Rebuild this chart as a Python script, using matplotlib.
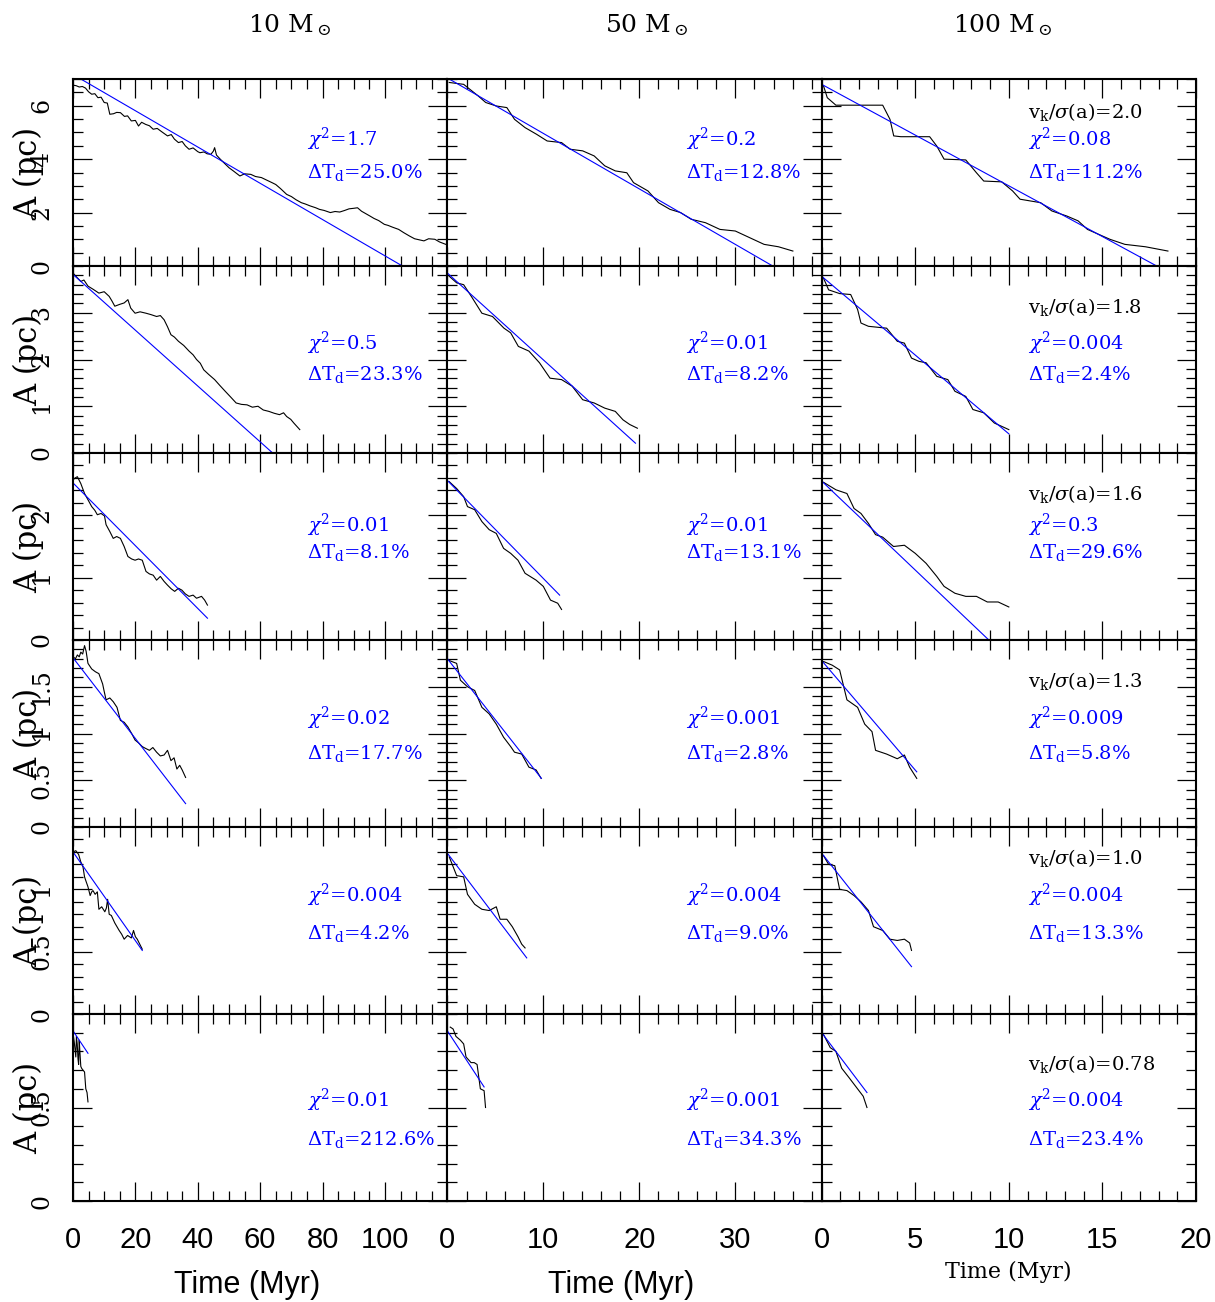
import matplotlib.pyplot as plt
from matplotlib.ticker import MultipleLocator

plt.rcParams['mathtext.fontset'] = 'dejavuserif'

# ---- data -------------------------------------------------------------
masses = ["10", "50", "100"]
vk_sigma = ["2.0", "1.8", "1.6", "1.3", "1.0", "0.78"]

chi2 = [["1.7", "0.2", "0.08"],
        ["0.5", "0.01", "0.004"],
        ["0.01", "0.01", "0.3"],
        ["0.02", "0.001", "0.009"],
        ["0.004", "0.004", "0.004"],
        ["0.01", "0.001", "0.004"]]

delta_td = [["25.0", "12.8", "11.2"],
            ["23.3", "8.2", "2.4"],
            ["8.1", "13.1", "29.6"],
            ["17.7", "2.8", "5.8"],
            ["4.2", "9.0", "13.3"],
            ["212.6", "34.3", "23.4"]]

# linear fits, one per row: (t_start, A_start, t_end, A_end)
fit_10 = [(0, 7.17, 105.6, 0.0), (0, 3.82, 64.0, 0.0), (0, 2.52, 43.1, 0.35),
          (0, 1.81, 36.1, 0.25), (0, 1.30, 22.2, 0.51), (0, 0.91, 4.8, 0.79)]
fit_50 = [(0, 7.04, 33.9, 0.0), (0, 3.85, 19.6, 0.21), (0, 2.56, 11.7, 0.72),
          (0, 1.80, 9.8, 0.52), (0, 1.29, 8.27, 0.45), (0, 0.91, 3.83, 0.61)]
fit_100 = [(0, 6.80, 17.9, 0.0), (0, 3.78, 10.0, 0.41), (0, 2.55, 8.93, 0.0),
           (0, 1.78, 5.08, 0.59), (0, 1.29, 4.8, 0.38), (0, 0.90, 2.42, 0.58)]

# simulated semi-major axis vs time (Myr, pc)
t_10 = [
    [0, 1, 2, 3, 4, 5, 6, 7, 8, 9, 10, 11, 11.8, 13, 14, 15.2, 16.5, 17.5, 18.7, 20,
     21, 22, 23.3, 24.5, 25.7, 27, 28.5, 30.3, 31.5, 32.5, 33.8, 35, 36, 37.2, 38.5, 40,
     40.7, 42, 43, 44.2, 45, 45.4, 46, 47.2, 48.5, 50, 51.5, 53.5, 55, 57, 58.5, 60.4,
     62, 63.8, 65, 66.5, 68.5, 70, 71.5, 73.2, 74.5, 76, 77.8, 79, 80.5, 82.5, 84, 85.5,
     87.1, 88.5, 90, 91.2, 92.5, 94, 95.2, 96.5, 98, 99.8, 101, 102.5, 104.4, 106, 107.9,
     109.5, 111, 112.5, 114, 116, 117.5, 119.5],
    [0, 1.2, 2.5, 3.5, 4.8, 6.5, 8.3, 10, 11.6, 12.5, 13.4, 15, 16.4, 17.6, 18.5, 19.9,
     21.5, 23.4, 25, 26.8, 28, 29.2, 30.3, 31.4, 32.5, 33.8, 35.5, 37.2, 38.5, 39.6, 40.8,
     41.9, 43.5, 45.4, 47, 48.8, 50.5, 52.3, 54, 55.8, 57.5, 59.3, 61, 62.8, 64.5, 66.2,
     67.5, 68.5, 69.8, 70.8, 72.7],
    [0, 0.7, 1.4, 2.5, 3.7, 4.8, 6.0, 7.0, 7.8, 9, 10.1, 10.6, 11.8, 12.9, 14, 15.2, 16.4,
     17.6, 18.8, 19.9, 21, 22.2, 23.4, 24.5, 25.7, 26.8, 28, 29.2, 30.3, 31.5, 32.6, 33.8,
     34.9, 36, 37.2, 38.5, 39.6, 41.2, 42.2, 43.1],
    [0, 0.8, 1.4, 2.0, 2.5, 3.1, 3.7, 4.2, 4.8, 5.4, 6.0, 7.2, 8.3, 9.5, 10.0, 10.6, 11.8,
     12.9, 14.1, 15.2, 16.4, 17.6, 18.8, 19.9, 21, 22.2, 23.3, 24.5, 25.6, 26.8, 28, 29.2,
     30.3, 31.4, 32.4, 33.3, 34.2, 35, 36.1],
    [0, 0.9, 1.8, 2.5, 3.2, 3.7, 4.1, 4.8, 5.5, 6.0, 6.4, 7.1, 7.8, 8.3, 9.2, 10.2, 10.7,
     11.1, 11.6, 12.3, 13.4, 14.1, 14.8, 15.6, 16.4, 17.5, 18.7, 19.4, 20.0, 20.6, 21.4, 22.2],
    [0, 0.4, 0.9, 1.1, 1.35, 1.6, 1.8, 2.0, 2.2, 2.5, 2.75, 3.2, 3.7, 4.1, 4.5, 4.8],
]
a_10 = [
    [6.77, 6.75, 6.70, 6.72, 6.66, 6.52, 6.43, 6.45, 6.30, 6.32, 6.12, 6.10, 5.68, 5.70,
     5.75, 5.74, 5.60, 5.62, 5.43, 5.45, 5.24, 5.38, 5.30, 5.25, 5.12, 5.15, 5.02, 4.87,
     4.92, 4.75, 4.62, 4.66, 4.50, 4.37, 4.42, 4.28, 4.24, 4.27, 4.20, 4.18, 4.30, 4.43,
     4.15, 4.00, 3.85, 3.68, 3.55, 3.37, 3.45, 3.43, 3.35, 3.31, 3.22, 3.12, 3.05, 2.90,
     2.68, 2.60, 2.48, 2.37, 2.32, 2.25, 2.18, 2.12, 2.08, 2.00, 2.04, 2.02, 2.08, 2.14,
     2.16, 2.18, 2.05, 1.95, 1.87, 1.78, 1.70, 1.56, 1.52, 1.45, 1.37, 1.25, 1.12, 1.02,
     0.98, 0.94, 1.02, 1.00, 0.90, 0.81],
    [3.85, 3.76, 3.67, 3.70, 3.57, 3.50, 3.42, 3.45, 3.35, 3.25, 3.14, 3.18, 3.21, 3.28,
     3.10, 2.99, 3.02, 2.99, 2.96, 2.92, 2.94, 2.85, 2.70, 2.53, 2.48, 2.39, 2.30, 2.18,
     2.10, 2.00, 1.92, 1.78, 1.68, 1.57, 1.45, 1.32, 1.20, 1.07, 1.04, 1.03, 0.98, 1.00,
     0.92, 0.89, 0.85, 0.82, 0.86, 0.78, 0.72, 0.64, 0.50],
    [2.57, 2.60, 2.62, 2.51, 2.35, 2.25, 2.14, 2.08, 2.01, 2.03, 1.99, 1.85, 1.74, 1.63,
     1.66, 1.63, 1.50, 1.34, 1.30, 1.28, 1.30, 1.28, 1.10, 1.06, 1.04, 0.96, 1.02, 0.94,
     0.88, 0.82, 0.78, 0.83, 0.80, 0.74, 0.70, 0.72, 0.67, 0.70, 0.64, 0.56],
    [1.82, 1.80, 1.84, 1.82, 1.87, 1.85, 1.94, 1.88, 1.75, 1.72, 1.69, 1.66, 1.64, 1.53,
     1.45, 1.36, 1.38, 1.34, 1.28, 1.14, 1.12, 1.07, 1.00, 0.93, 0.90, 0.86, 0.84, 0.82,
     0.85, 0.80, 0.76, 0.77, 0.82, 0.71, 0.74, 0.62, 0.66, 0.61, 0.53],
    [1.30, 1.31, 1.28, 1.22, 1.18, 1.10, 1.07, 1.02, 0.95, 0.98, 0.99, 0.96, 0.98, 0.84,
     0.86, 0.82, 0.85, 0.92, 0.80, 0.79, 0.73, 0.70, 0.67, 0.64, 0.60, 0.63, 0.61, 0.67,
     0.62, 0.60, 0.56, 0.52],
    [0.90, 0.85, 0.77, 0.88, 0.84, 0.76, 0.73, 0.86, 0.80, 0.72, 0.71, 0.70, 0.69, 0.60,
     0.58, 0.53],
]

t_50 = [
    [0.2, 1.7, 3.2, 4.0, 5.1, 6.2, 7.0, 8.1, 9.3, 10.4, 11.9, 12.8, 14.1, 15.3, 16.4, 17.5,
     18.7, 19.4, 20.9, 22.0, 23.2, 24.3, 25.4, 26.9, 28.4, 30.0, 31.5, 33.0, 34.5, 36.0],
    [0.2, 0.97, 1.7, 2.5, 3.6, 4.7, 5.9, 6.6, 7.4, 8.5, 9.6, 10.7, 11.9, 13.0, 14.1, 15.3,
     16.4, 17.5, 18.3, 19.0, 19.8],
    [0.2, 0.97, 1.7, 2.1, 2.85, 3.6, 4.36, 5.1, 5.86, 6.6, 7.36, 8.1, 9.25, 10.0, 10.75,
     11.5, 11.9],
    [0.2, 0.97, 1.36, 2.1, 2.85, 3.6, 4.36, 5.1, 5.86, 6.6, 7.0, 7.75, 8.5, 9.25, 9.77],
    [0.2, 0.97, 1.7, 2.1, 2.85, 3.6, 4.36, 5.1, 5.5, 6.2, 6.77, 7.36, 7.75, 8.1],
    [0.3, 0.6, 0.9, 1.36, 1.7, 1.95, 2.47, 2.8, 3.1, 3.44, 3.83, 3.98],
]
a_50 = [
    [6.87, 6.80, 6.37, 6.12, 5.99, 5.93, 5.49, 5.18, 4.93, 4.68, 4.62, 4.37, 4.31, 4.12,
     3.75, 3.56, 3.49, 3.12, 2.81, 2.37, 2.12, 2.00, 1.75, 1.62, 1.37, 1.31, 1.06, 0.81,
     0.72, 0.56],
    [3.78, 3.64, 3.60, 3.35, 2.99, 2.92, 2.67, 2.57, 2.28, 2.18, 1.93, 1.60, 1.57, 1.43,
     1.14, 1.07, 0.96, 0.89, 0.71, 0.61, 0.53],
    [2.54, 2.43, 2.30, 2.14, 2.09, 1.90, 1.77, 1.71, 1.47, 1.39, 1.28, 1.07, 0.96, 0.86,
     0.64, 0.59, 0.49],
    [1.78, 1.75, 1.57, 1.50, 1.46, 1.28, 1.21, 1.10, 0.96, 0.86, 0.80, 0.78, 0.64, 0.61, 0.52],
    [1.26, 1.11, 1.10, 0.96, 0.88, 0.84, 0.83, 0.86, 0.76, 0.76, 0.70, 0.62, 0.56, 0.53],
    [0.93, 0.92, 0.88, 0.86, 0.84, 0.77, 0.74, 0.74, 0.73, 0.60, 0.59, 0.50],
]

t_100 = [
    [0.1, 0.3, 0.76, 3.26, 3.65, 3.85, 4.23, 5.77, 6.15, 6.54, 7.7, 8.27, 8.66, 9.62, 10.2,
     10.6, 11.7, 12.3, 13.1, 13.7, 14.2, 15.4, 16.2, 17.3, 18.5],
    [0.1, 0.37, 0.96, 1.55, 1.92, 2.1, 2.5, 3.47, 4.04, 4.42, 4.8, 5.2, 5.58, 6.15, 6.74,
     7.12, 7.7, 8.08, 8.66, 9.23, 9.62, 10.0],
    [0.1, 0.76, 1.35, 1.73, 2.1, 2.5, 2.88, 3.26, 3.84, 4.42, 5.0, 5.58, 6.15, 6.54, 7.12,
     7.7, 8.27, 8.85, 9.43, 10.0],
    [0.1, 0.57, 0.96, 1.35, 1.92, 2.3, 2.69, 2.88, 3.47, 4.04, 4.42, 4.7, 5.08],
    [0.1, 0.37, 0.7, 0.96, 1.35, 1.73, 2.1, 2.5, 2.77, 3.26, 3.65, 4.04, 4.42, 4.7, 4.8],
    [0.1, 0.46, 0.76, 1.07, 1.46, 1.84, 2.22, 2.42],
]
a_100 = [
    [6.74, 6.30, 6.02, 6.02, 5.49, 4.87, 4.84, 4.84, 4.49, 4.00, 3.97, 3.49, 3.18, 3.15,
     2.81, 2.50, 2.37, 2.06, 1.87, 1.69, 1.37, 1.00, 0.81, 0.72, 0.56],
    [3.74, 3.49, 3.41, 3.39, 3.07, 2.78, 2.71, 2.67, 2.39, 2.35, 2.03, 1.96, 1.93, 1.64,
     1.57, 1.32, 1.21, 0.93, 0.86, 0.64, 0.57, 0.50],
    [2.53, 2.41, 2.35, 2.11, 2.03, 1.87, 1.69, 1.65, 1.50, 1.52, 1.39, 1.23, 1.02, 0.86,
     0.75, 0.70, 0.70, 0.61, 0.61, 0.53],
    [1.77, 1.73, 1.68, 1.36, 1.28, 1.10, 1.02, 0.82, 0.78, 0.73, 0.77, 0.64, 0.52],
    [1.27, 1.20, 1.19, 1.00, 0.99, 0.95, 0.90, 0.83, 0.70, 0.67, 0.60, 0.59, 0.60, 0.57, 0.51],
    [0.89, 0.82, 0.80, 0.71, 0.66, 0.61, 0.56, 0.50],
]

# axis ranges and ticks
x_max = [120, 39, 20]
x_major = [[0, 20, 40, 60, 80, 100], [0, 10, 20, 30], [0, 5, 10, 15, 20]]
x_minor = [5, 2, 1]
y_max = [7, 4, 3, 2, 1.5, 1]
y_major = [[0, 2, 4, 6], [0, 1, 2, 3], [0, 1, 2], [0, 0.5, 1, 1.5], [0, 0.5, 1], [0, 0.5]]
y_minor = [0.5, 0.2, 0.2, 0.1, 0.1, 0.1]

# ---- layout -----------------------------------------------------------
W, H = 1215, 1302
text_x = [0.624, 0.638, 0.552]
vk_y = [0.791, 0.749, 0.749, 0.749, 0.802, 0.700]
chi_y = [0.642, 0.553, 0.579, 0.545, 0.599, 0.503]
dt_y = [0.471, 0.390, 0.439, 0.363, 0.401, 0.299]

fig, axes = plt.subplots(
    6, 3, figsize=(W / 100, H / 100), dpi=100,
    gridspec_kw=dict(hspace=0, wspace=0, left=73 / W, right=1196 / W,
                     top=1 - 79 / H, bottom=1 - 1201 / H))

columns = [(t_10, a_10, fit_10), (t_50, a_50, fit_50), (t_100, a_100, fit_100)]
serif = 'DejaVu Serif'

for c, (times, amps, fits) in enumerate(columns):
    for r in range(6):
        ax = axes[r, c]
        ax.plot(times[r], amps[r], color='black', lw=0.8)
        t0, a0, t1, a1 = fits[r]
        ax.plot([t0, t1], [a0, a1], color='blue', lw=0.8)

        ax.set_xlim(0, x_max[c])
        ax.set_ylim(0, y_max[r])
        ax.set_xticks(x_major[c], [f"{v:g}" for v in x_major[c]])
        ax.xaxis.set_minor_locator(MultipleLocator(x_minor[c]))
        ax.set_yticks(y_major[r], [f"{v:g}" for v in y_major[r]])
        ax.yaxis.set_minor_locator(MultipleLocator(y_minor[r]))

        for s in ax.spines.values():
            s.set_linewidth(1.5)
        ax.tick_params(which='both', direction='in', top=True, right=True, width=0.9)
        ax.tick_params(which='major', length=14)
        ax.tick_params(which='minor', length=7)
        ax.tick_params(axis='x', labelbottom=(r == 5), labelsize=21,
                       labelfontfamily='Liberation Sans', pad=18)
        ax.tick_params(axis='y', labelleft=(c == 0), labelsize=17,
                       labelfontfamily=serif, labelrotation=90, pad=14)
        for lab in ax.get_yticklabels():
            lab.set_va('center')

        tx = text_x[c]
        ax.text(tx, chi_y[r], rf"$\chi^2$={chi2[r][c]}", color='blue',
                transform=ax.transAxes, fontsize=14, family=serif, va='baseline')
        ax.text(tx, dt_y[r], rf"$\Delta$T$_{{\rm d}}$={delta_td[r][c]}%", color='blue',
                transform=ax.transAxes, fontsize=14, family=serif, va='baseline')
        if c == 2:
            ax.text(tx, vk_y[r], rf"v$_{{\rm k}}$/$\sigma$(a)={vk_sigma[r]}", color='black',
                    transform=ax.transAxes, fontsize=14, family=serif, va='baseline')
        if c == 0:
            ax.text(-0.12, 0.5, "A (pc)", transform=ax.transAxes, rotation=90,
                    ha='center', va='center', fontsize=22, family=serif)

# column headers
for xc, m in zip([290, 647, 1003], masses):
    fig.text(xc / W, 1 - 32 / H, rf"{m} M$_\odot$", ha='center', va='baseline',
             fontsize=18, family=serif)

# bottom axis titles
fig.text(247 / W, 1 - 1285 / H, "Time (Myr)", ha='center', va='center',
         fontsize=22, family='Liberation Sans')
fig.text(621 / W, 1 - 1285 / H, "Time (Myr)", ha='center', va='center',
         fontsize=22, family='Liberation Sans')
fig.text(1008 / W, 1 - 1272 / H, "Time (Myr)", ha='center', va='center',
         fontsize=16, family=serif)

fig.savefig("out.png", dpi=100)
